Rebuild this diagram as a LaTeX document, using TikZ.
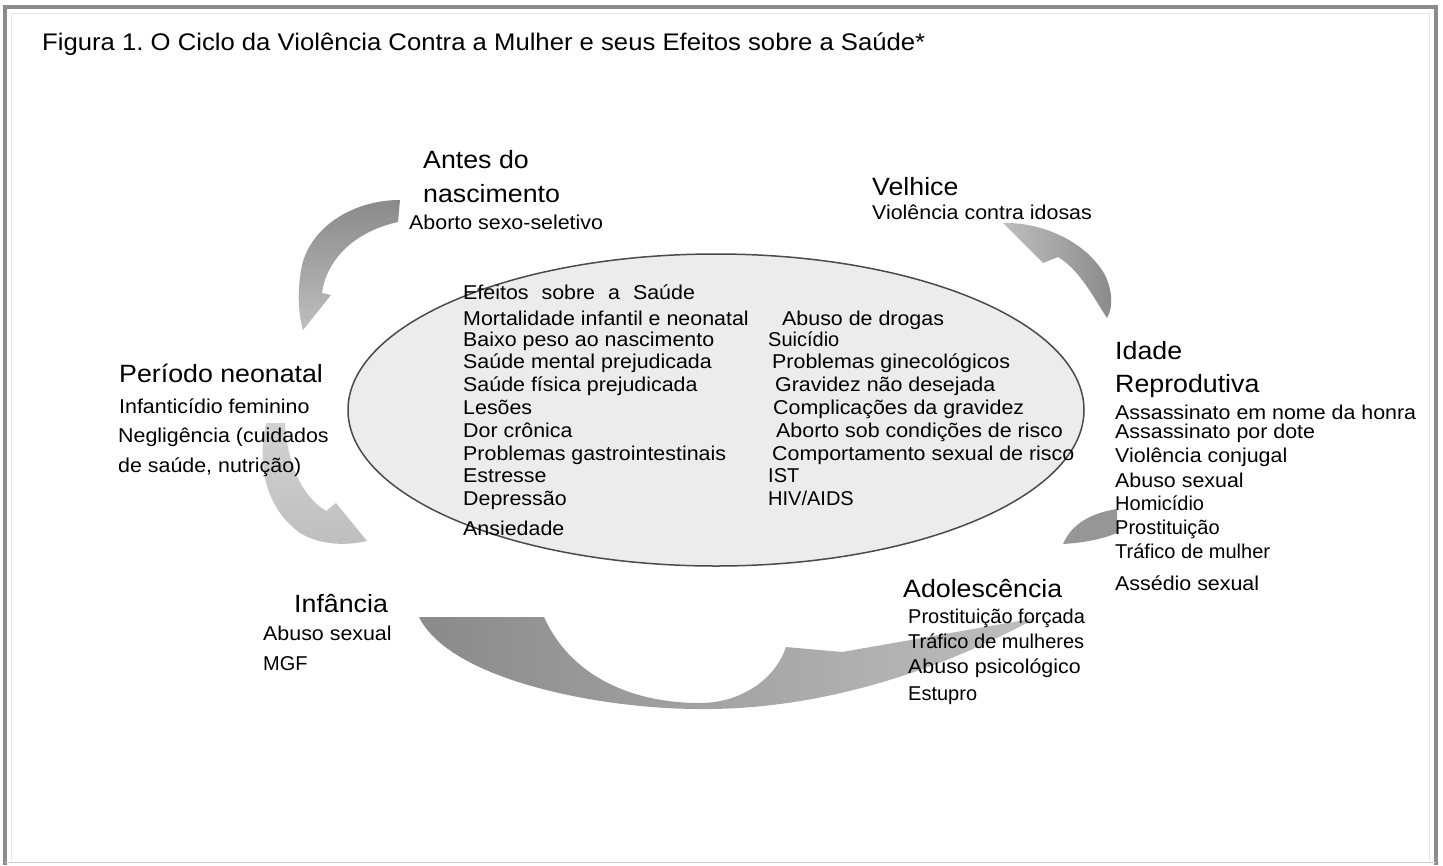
\documentclass[tikz,border=0pt]{standalone}
\usepackage{fontspec}
\setmainfont{Liberation Sans}
\newfontfamily\sansf[FakeStretch=1.07]{Liberation Sans}
\newcommand\hfont{\sansf\fontsize{25}{30}\selectfont}
\newcommand\bfont{\sansf\fontsize{20}{24}\selectfont}
\newcommand\pfont{\fontsize{20}{24}\selectfont}
\usetikzlibrary{shapes.geometric}
\definecolor{framegray}{HTML}{8C8C8C}
\definecolor{ellfill}{HTML}{ECECEC}
\definecolor{ellline}{HTML}{4A4A4A}
\definecolor{swA}{HTML}{8A8A8A}
\definecolor{swB}{HTML}{BEBEBE}
\definecolor{swC}{HTML}{D2D2D2}
\begin{document}
\frenchspacing
\begin{tikzpicture}[x=1pt,y=-1pt,
  hd/.style={anchor=base west,inner sep=0pt,font=\hfont},
  it/.style={anchor=base west,inner sep=0pt,font=\bfont},
  ip/.style={anchor=base west,inner sep=0pt,font=\pfont}]
\useasboundingbox (0,0) rectangle (1443,865);
% frame
\draw[line width=1pt, black!10] (11,861) -- (11,13) -- (1429,13) -- (1429,861);
\draw[line width=4pt, framegray] (5,865) -- (5,7) -- (1436,7) -- (1436,865);
\draw[line width=1.5pt, black!20] (5,862.5) -- (1436,862.5);

% title
\node[anchor=base west,inner sep=0pt,font=\sansf\fontsize{24}{28}\selectfont] (title) at (42,50)
  {Figura 1. O Ciclo da Violência Contra a Mulher e seus Efeitos sobre a Saúde*};

% swooshes (cycle arrows)
% Antes do nascimento -> Periodo neonatal
\shade[top color=swA, bottom color=swB]
  (400,200) .. controls (355,200) and (312,225) .. (302,265)
  .. controls (297,290) and (298,312) .. (303,330)
  -- (331,295) -- (322,293)
  .. controls (326,262) and (352,232) .. (398,222) -- cycle;
% Periodo neonatal -> Infancia
\shade[top color=swC, middle color=swA, bottom color=swB]
  (266,423) .. controls (258,460) and (262,505) .. (300,533)
  .. controls (320,545) and (345,546) .. (367,541)
  -- (336,503) -- (326,511)
  .. controls (300,495) and (287,460) .. (285,423) -- cycle;
% Infancia -> Adolescencia
\shade[left color=swA, right color=swB]
  (419,617) -- (544,617)
  .. controls (570,675) and (630,703) .. (700,703)
  .. controls (740,703) and (775,680) .. (786,647)
  -- (842,652) -- (1036,618)
  .. controls (950,665) and (830,710) .. (700,709)
  .. controls (600,709) and (450,680) .. (419,617) -- cycle;
% Adolescencia -> Idade reprodutiva
\fill[swA!90!white]
  (1063,544) .. controls (1070,528) and (1085,514) .. (1117,509)
  -- (1117,533) .. controls (1100,540) and (1080,543) .. (1063,544) -- cycle;
% Idade reprodutiva -> Velhice
\shade[left color=swB, right color=swA]
  (1003,223) .. controls (1040,222) and (1085,240) .. (1105,275)
  .. controls (1113,292) and (1113,308) .. (1107,318)
  .. controls (1095,300) and (1080,270) .. (1058,257)
  -- (1043,263) -- cycle;

% central ellipse
\node[ellipse, draw=ellline, line width=1.5pt, fill=ellfill,
      minimum width=736pt, minimum height=312pt, inner sep=0pt] (eff) at (716,410) {};

% ellipse text, left column
\node[it] (e0) at (463,299) {Efeitos\hspace{13pt}sobre\hspace{13pt}a\hspace{13pt}Saúde};
\node[it] (e1) at (463,325) {Mortalidade infantil e neonatal};
\node[it] (e2) at (463,346) {Baixo peso ao nascimento};
\node[it] (e3) at (463,368) {Saúde mental prejudicada};
\node[it] (e4) at (463,391) {Saúde física prejudicada};
\node[it] (e5) at (463,414) {Lesões};
\node[it] (e6) at (463,437) {Dor crônica};
\node[it] (e7) at (463,460) {Problemas gastrointestinais};
\node[it] (e8) at (463,482) {Estresse};
\node[it] (e9) at (463,505) {Depressão};
\node[it] (e10) at (463,535) {Ansiedade};
% right column
\node[it] (f1) at (782,325) {Abuso de drogas};
\node[ip] (f2) at (768,346) {Suicídio};
\node[it] (f3) at (772,368) {Problemas ginecológicos};
\node[it] (f4) at (775,391) {Gravidez não desejada};
\node[it] (f5) at (773,414) {Complicações da gravidez};
\node[it] (f6) at (776,437) {Aborto sob condições de risco};
\node[it] (f7) at (772,460) {Comportamento sexual de risco};
\node[ip] (f8) at (768,482) {IST};
\node[ip] (f9) at (768,505) {HIV/AIDS};

% Antes do nascimento
\node[hd] (a1) at (423,168) {Antes do};
\node[hd] (a2) at (423,202) {nascimento};
\node[it] (a3) at (409,229) {Aborto sexo-seletivo};

% Velhice
\node[hd] (v1) at (872,195) {Velhice};
\node[it] (v2) at (872,219) {Violência contra idosas};

% Periodo neonatal
\node[hd] (n1) at (119,382) {Período neonatal};
\node[it] (n2) at (119,413) {Infanticídio feminino};
\node[it] (n3) at (118,442) {Negligência (cuidados};
\node[it] (n4) at (118,472) {de saúde, nutrição)};

% Idade reprodutiva
\node[hd] (r1) at (1115,359) {Idade};
\node[hd] (r2) at (1115,392) {Reprodutiva};
\node[it] (r3) at (1115,419) {Assassinato em nome da honra};
\node[it] (r4) at (1115,438) {Assassinato por dote};
\node[it] (r5) at (1115,462) {Violência conjugal};
\node[it] (r6) at (1115,487) {Abuso sexual};
\node[ip] (r7) at (1115,510) {Homicídio};
\node[ip] (r8) at (1115,534) {Prostituição};
\node[ip] (r9) at (1115,558) {Tráfico de mulher};
\node[it] (r10) at (1115,590) {Assédio sexual};

% Infancia
\node[hd] (i1) at (294,612) {Infância};
\node[it] (i2) at (263,640) {Abuso sexual};
\node[ip] (i3) at (263,670) {MGF};

% Adolescencia
\node[hd] (d1) at (903,597) {Adolescência};
\node[ip] (d2) at (908,623) {Prostituição forçada};
\node[ip] (d3) at (908,648) {Tráfico de mulheres};
\node[it] (d4) at (908,673) {Abuso psicológico};
\node[ip] (d5) at (908,700) {Estupro};
\end{tikzpicture}
\end{document}
